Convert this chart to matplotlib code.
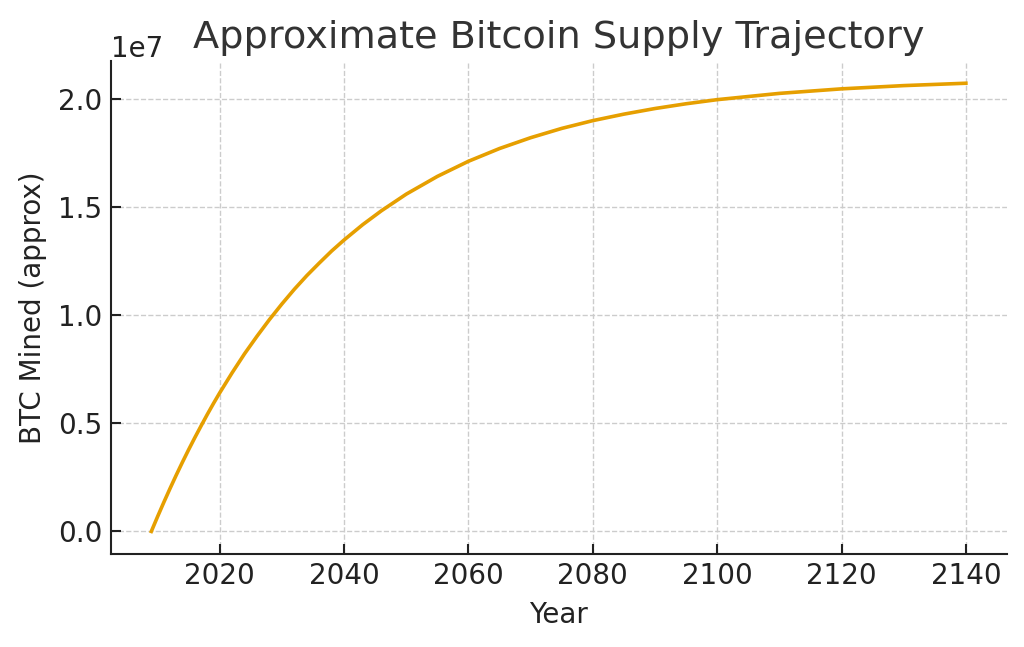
import matplotlib
matplotlib.use("Agg")
import matplotlib.pyplot as plt

# values (BTC mined, approx)
years = [2009, 2010, 2011, 2012, 2013, 2014, 2015, 2016, 2017, 2018, 2019,
         2020, 2022, 2024, 2026, 2028, 2030, 2032, 2034, 2036, 2038, 2040,
         2043, 2046, 2050, 2055, 2060, 2065, 2070, 2075, 2080, 2085, 2090,
         2095, 2100, 2110, 2120, 2130, 2140]
mined = [0.0, 0.68e6, 1.34e6, 1.98e6, 2.60e6, 3.20e6, 3.78e6, 4.34e6,
         4.88e6, 5.41e6, 5.92e6, 6.41e6, 7.34e6, 8.22e6, 9.03e6, 9.80e6,
         10.52e6, 11.20e6, 11.83e6, 12.41e6, 12.97e6, 13.48e6, 14.19e6,
         14.83e6, 15.60e6, 16.42e6, 17.12e6, 17.71e6, 18.21e6, 18.64e6,
         19.00e6, 19.30e6, 19.56e6, 19.78e6, 19.97e6, 20.26e6, 20.47e6,
         20.62e6, 20.73e6]

fig = plt.figure(figsize=(10.24, 6.47), dpi=100)
ax = fig.add_axes([0.108, 0.144, 0.875, 0.762])

ax.plot(years, mined, color="#E69F00", linewidth=2.6)

ax.set_title("Approximate Bitcoin Supply Trajectory", fontsize=27.5, color="#333333", pad=9)
ax.set_xlabel("Year", fontsize=20, color="#222222", labelpad=8)
ax.set_ylabel("BTC Mined (approx)", fontsize=20, color="#222222", labelpad=8)

ax.grid(True, linestyle="--", color="#cccccc", linewidth=1)
ax.set_axisbelow(True)
for s in ["top", "right"]:
    ax.spines[s].set_visible(False)
for s in ["left", "bottom"]:
    ax.spines[s].set_linewidth(1.5)
    ax.spines[s].set_color("#222222")
ax.tick_params(direction="in", length=7, width=1.5, labelsize=20, colors="#222222", pad=6)
ax.yaxis.get_offset_text().set_fontsize(20)
ax.yaxis.get_offset_text().set_color("#222222")

fig.savefig("out.png", dpi=100)
